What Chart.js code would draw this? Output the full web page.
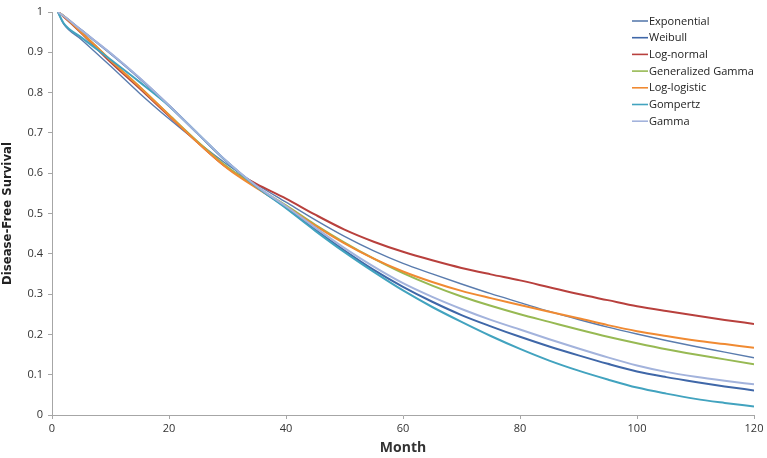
<!DOCTYPE html>
<html>
<head>
<meta charset="utf-8">
<script src="https://cdn.jsdelivr.net/npm/chart.js@4.4.1/dist/chart.umd.min.js"></script>
<style>
    html, body { margin: 0; padding: 0; background: #fff; }
    #wrap { width: 767px; height: 458px; }
</style>
</head>
<body>
<div id="wrap"><canvas id="chart" width="767" height="458"></canvas></div>
<script>
// months
const months = [1, 2, 5, 10, 15, 20, 25, 30, 35, 40, 45, 50, 55, 60, 65, 70, 75, 80, 85, 90, 95, 100, 105, 110, 115, 120]

const exponential = [1, 0.97, 0.932, 0.866, 0.798, 0.735, 0.676, 0.621, 0.572, 0.528, 0.484, 0.443, 0.407, 0.376, 0.35, 0.325, 0.301, 0.279, 0.257, 0.237, 0.218, 0.201, 0.185, 0.17, 0.156, 0.142]
const weibull = [1, 0.99, 0.955, 0.897, 0.835, 0.768, 0.697, 0.627, 0.566, 0.515, 0.46, 0.408, 0.36, 0.318, 0.281, 0.248, 0.22, 0.194, 0.17, 0.148, 0.127, 0.108, 0.094, 0.082, 0.071, 0.061]
const logNormal = [1, 0.988, 0.948, 0.876, 0.81, 0.742, 0.675, 0.613, 0.573, 0.537, 0.497, 0.46, 0.43, 0.405, 0.384, 0.365, 0.349, 0.334, 0.317, 0.3, 0.285, 0.27, 0.258, 0.247, 0.236, 0.226]
const genGamma = [1, 0.99, 0.95, 0.88, 0.814, 0.745, 0.677, 0.615, 0.565, 0.52, 0.472, 0.428, 0.388, 0.352, 0.321, 0.294, 0.271, 0.25, 0.231, 0.212, 0.194, 0.178, 0.163, 0.15, 0.138, 0.126]
const logLogistic = [1, 0.99, 0.95, 0.88, 0.814, 0.744, 0.675, 0.612, 0.563, 0.518, 0.47, 0.426, 0.388, 0.356, 0.33, 0.308, 0.29, 0.273, 0.256, 0.24, 0.223, 0.208, 0.196, 0.185, 0.176, 0.167]
const gompertz = [1, 0.972, 0.937, 0.882, 0.826, 0.767, 0.697, 0.627, 0.566, 0.513, 0.457, 0.404, 0.355, 0.309, 0.268, 0.231, 0.196, 0.164, 0.135, 0.11, 0.088, 0.068, 0.053, 0.04, 0.03, 0.021]
const gamma = [1, 0.99, 0.955, 0.898, 0.836, 0.768, 0.697, 0.628, 0.568, 0.518, 0.465, 0.414, 0.368, 0.327, 0.293, 0.263, 0.236, 0.212, 0.188, 0.165, 0.143, 0.123, 0.107, 0.095, 0.085, 0.076]

const xTickLabels = ['0', '20', '40', '60', '80', '100', '120']
const yTickLabels = ['0', '0.1', '0.2', '0.3', '0.4', '0.5', '0.6', '0.7', '0.8', '0.9', '1']

const seriesNames = ['Exponential', 'Weibull', 'Log-normal', 'Generalized Gamma', 'Log-logistic', 'Gompertz', 'Gamma']
const seriesData = [exponential, weibull, logNormal, genGamma, logLogistic, gompertz, gamma]
const seriesColors = ['#5a7cae', '#3f67a8', '#b8403d', '#97b953', '#f08a32', '#42a3bf', '#a3b3dc']
const seriesWidths = [1.4, 2, 2, 2, 2, 2, 2]

const FONT = '"Open Sans", "Liberation Sans", sans-serif'

// legend drawn in the top right corner, like the Excel original
const cornerLegend = {
    id: 'cornerLegend',
    afterDraw(chart) {
        const ctx = chart.ctx
        ctx.save()
        ctx.font = '11px ' + FONT
        ctx.textBaseline = 'middle'
        seriesNames.forEach((name, i) => {
            const y = 21 + i * 16.7
            ctx.strokeStyle = seriesColors[i]
            ctx.lineWidth = 1.6
            ctx.beginPath()
            ctx.moveTo(632, y)
            ctx.lineTo(648, y)
            ctx.stroke()
            ctx.fillStyle = '#222'
            ctx.fillText(name, 649, y + 0.5)
        })
        ctx.restore()
    }
}

// Excel paints the last series on top; Chart.js paints index 0 on top
const datasets = seriesNames.map((name, i) => ({
    label: name,
    data: months.map((m, j) => ({x: m, y: seriesData[i][j]})),
    borderColor: seriesColors[i],
    backgroundColor: seriesColors[i],
    borderWidth: seriesWidths[i],
    pointRadius: 0,
    cubicInterpolationMode: 'monotone',
    fill: false
})).reverse()

new Chart(document.getElementById('chart'), {
    type: 'line',
    data: {datasets: datasets},
    options: {
        responsive: false,
        animation: false,
        layout: {padding: {top: 12, right: 13, left: 0, bottom: 0}},
        plugins: {
            legend: {display: false},
            tooltip: {enabled: false}
        },
        scales: {
            x: {
                type: 'linear',
                min: 0,
                max: 120,
                afterFit: (scale) => { scale.height = 43 },
                afterBuildTicks: (scale) => {
                    scale.ticks = xTickLabels.map(v => ({value: Number(v)}))
                },
                border: {color: '#a6a6a6'},
                grid: {display: true, drawOnChartArea: false, drawTicks: true, tickLength: 4, color: '#a6a6a6'},
                ticks: {
                    color: '#333',
                    font: {size: 11, family: FONT},
                    padding: 3,
                    maxRotation: 0,
                    callback: (v) => String(v)
                },
                title: {
                    display: true,
                    text: 'Month',
                    color: '#333',
                    font: {size: 14, weight: 'bold', family: FONT},
                    padding: {top: 0, bottom: 2}
                }
            },
            y: {
                min: 0,
                max: 1,
                afterFit: (scale) => { scale.width = 52 },
                afterBuildTicks: (scale) => {
                    scale.ticks = yTickLabels.map(v => ({value: Number(v)}))
                },
                border: {color: '#a6a6a6'},
                grid: {display: true, drawOnChartArea: false, drawTicks: true, tickLength: 4, color: '#a6a6a6'},
                ticks: {
                    color: '#333',
                    font: {size: 11, family: FONT},
                    padding: 5,
                    callback: (v) => yTickLabels.find(t => Number(t) === v)
                },
                title: {
                    display: true,
                    text: 'Disease-Free Survival',
                    color: '#222',
                    font: {size: 13, weight: 'bold', family: '"Liberation Sans Narrow", "DejaVu Sans Condensed", "Liberation Sans", sans-serif'},
                    padding: {top: 0, bottom: 2}
                }
            }
        }
    },
    plugins: [cornerLegend]
})
</script>
</body>
</html>
